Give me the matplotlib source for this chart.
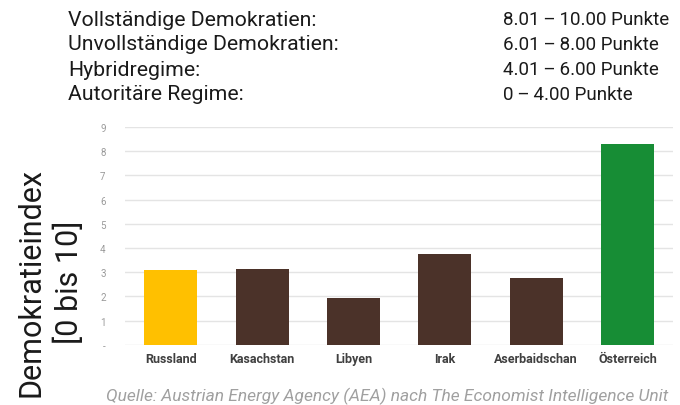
import matplotlib.pyplot as plt
import numpy as np

plt.rcParams['font.family'] = ['Roboto', 'DejaVu Sans']

laender = ['Russland', 'Kasachstan', 'Libyen', 'Irak', 'Aserbaidschan', 'Österreich']
index_werte = [3.11, 3.14, 1.93, 3.74, 2.75, 8.29]
farben = ['#FFC000', '#4B3229', '#4B3229', '#4B3229', '#4B3229', '#178D35']

kategorien = ['Vollständige Demokratien:', 'Unvollständige Demokratien:',
              'Hybridregime:', 'Autoritäre Regime:']
bereiche = ['8.01\u2009–\u200910.00 Punkte', '6.01\u2009–\u20098.00 Punkte',
            '4.01\u2009–\u20096.00 Punkte', '0\u2009–\u20094.00 Punkte']
y_ticks = list(range(10))
y_labels = ['-'] + [str(i) for i in range(1, 10)]

fig = plt.figure(figsize=(6.8, 4.06), dpi=100)
ax = fig.add_axes([0.184, 0.148, 0.806, 0.537])

x = np.arange(len(laender))
ax.bar(x, index_werte, width=0.58, color=farben, zorder=3)

ax.set_xlim(-0.5, len(laender) - 0.5)
ax.set_ylim(0, 9)
ax.set_yticks(y_ticks)
ax.set_yticklabels(y_labels, fontsize=7, color='#9a9a9a')
ax.set_xticks(x)
ax.set_xticklabels(laender, fontsize=9, fontweight='bold', color='#404040')
ax.tick_params(axis='both', length=0)
ax.tick_params(axis='y', pad=14)
ax.tick_params(axis='x', pad=5)
ax.grid(axis='y', color='#e4e4e4', linewidth=1.0, zorder=0)
for s in ax.spines.values():
    s.set_visible(False)

# Achsentitel, zweizeilig
fig.text(0.046, 0.305, 'Demokratieindex', rotation=90, fontsize=22,
         ha='center', va='center', color='#1a1a1a')
fig.text(0.101, 0.305, '[0 bis 10]', rotation=90, fontsize=22,
         ha='center', va='center', color='#1a1a1a')

# Kopfzeile mit den Regimetypen
for i, (k, b) in enumerate(zip(kategorien, bereiche)):
    yy = 1 - (20 + i * 25) / 406
    fig.text(0.1, yy, k, fontsize=15.3, ha='left', va='center', color='#1a1a1a')
    fig.text(0.74, yy, b, fontsize=13.5, ha='left', va='center', color='#1a1a1a')

fig.text(0.982, 1 - 396 / 406,
         'Quelle: Austrian Energy Agency (AEA) nach The Economist Intelligence Unit',
         fontsize=12.5, style='italic', ha='right', va='center', color='#a0a0a0')

fig.savefig('out.png', dpi=100)
